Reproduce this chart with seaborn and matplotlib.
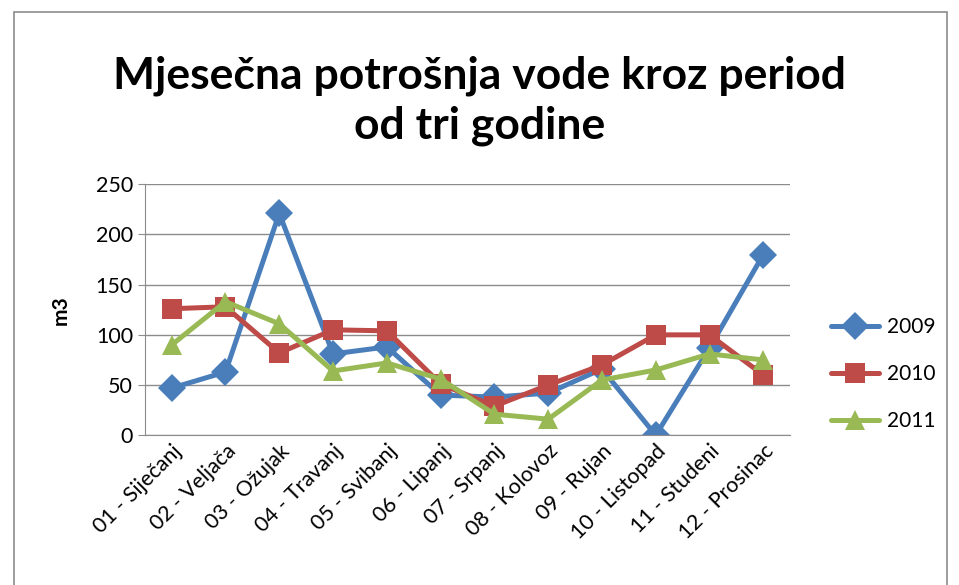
import pandas as pd
import matplotlib.pyplot as plt
import seaborn as sns
from matplotlib.patches import Rectangle

# Podaci (m3 po mjesecu)
mjeseci = ["01 - Siječanj", "02 - Veljača", "03 - Ožujak", "04 - Travanj",
           "05 - Svibanj", "06 - Lipanj", "07 - Srpanj", "08 - Kolovoz",
           "09 - Rujan", "10 - Listopad", "11 - Studeni", "12 - Prosinac"]
god_2009 = [47, 63, 221, 81, 88, 40, 38, 42, 66, 0, 87, 180]
god_2010 = [126, 128, 82, 105, 104, 51, 29, 50, 70, 100, 100, 60]
god_2011 = [90, 133, 111, 64, 72, 56, 21, 16, 55, 65, 81, 75]
godine = ["2009", "2010", "2011"]

df = pd.DataFrame({
    "mjesec": mjeseci * 3,
    "m3": god_2009 + god_2010 + god_2011,
    "godina": [g for g in godine for _ in mjeseci],
})

sns.set_style("white")
plt.rcParams["font.family"] = ["Lato", "DejaVu Sans"]
plt.rcParams["text.color"] = "black"

boje = {"2009": "#4A7EBB", "2010": "#BE4B48", "2011": "#98B954"}
markeri = {"2009": "D", "2010": "s", "2011": "^"}

fig = plt.figure(figsize=(9.59, 5.85), dpi=100)
ax = fig.add_axes([0.151, 0.256, 0.673, 0.429])

sns.lineplot(data=df, x="mjesec", y="m3", hue="godina", style="godina",
             palette=boje, markers=markeri, dashes=False, sort=False,
             linewidth=3.6, markersize=14, markeredgewidth=0, ax=ax)

ax.set_xlim(-0.5, 11.5)
ax.set_ylim(0, 250)
ax.set_yticks(range(0, 251, 50))
ax.grid(axis="y", color="#8c8c8c", linewidth=1)
ax.set_axisbelow(True)
for s in ["top", "right"]:
    ax.spines[s].set_visible(False)
ax.spines["left"].set_color("#8c8c8c")
ax.spines["bottom"].set_color("#8c8c8c")
ax.tick_params(axis="y", length=5, color="#8c8c8c", labelsize=15.5, left=True,
               labelcolor="black")
ax.tick_params(axis="x", length=0, labelsize=15.5, pad=4, labelcolor="black")
plt.setp(ax.get_xticklabels(), rotation=45, ha="right", rotation_mode="anchor")

ax.set_xlabel("")
ax.set_ylabel("m3", fontsize=15, fontweight="bold", labelpad=18, color="black")

fig.suptitle("Mjesečna potrošnja vode kroz period\nod tri godine",
             x=0.5, y=0.905, fontsize=32, fontweight="bold", linespacing=1.3)

ax.legend(title=None, loc="center left", bbox_to_anchor=(1.034, 0.243),
          frameon=False, fontsize=15, handlelength=2.3, labelspacing=1.3,
          handletextpad=0.4)

# okvir grafikona
fig.patches.append(Rectangle((0.015, -0.01), 0.972, 0.99, transform=fig.transFigure,
                             fill=False, edgecolor="#8c8c8c", linewidth=1.2))

plt.savefig("out.png", dpi=100)
